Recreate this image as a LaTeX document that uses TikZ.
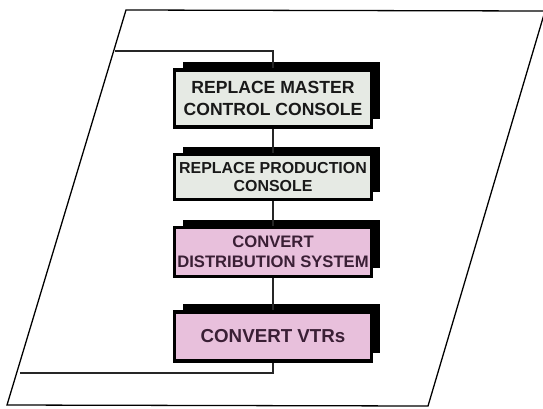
\documentclass[tikz,border=0pt]{standalone}
\usepackage{fontspec}
\setmainfont{Liberation Sans}
\usetikzlibrary{shadows}

\definecolor{consolegray}{HTML}{E6EAE4}
\definecolor{convertpink}{HTML}{E8C0DC}
\definecolor{converttext}{HTML}{3A1F35}

\begin{document}
\begin{tikzpicture}[
    x=0.03cm, y=-0.03cm,
    stepbox/.style={rectangle, draw=black, line width=2.8pt, minimum width=5.91cm,
        align=center, inner sep=0pt,
        general shadow={fill=black, shadow xshift=0.24cm, shadow yshift=0.24cm}},
    replacebox/.style={stepbox, fill=consolegray, text=black!90},
    convertbox/.style={stepbox, fill=convertpink, text=converttext},
    link/.style={draw=black!85, line width=1pt},
]
\useasboundingbox (0,0) rectangle (543,408);

% Outer frame
\draw[line width=1.1pt] (126,10) -- (545,11) -- (428,406) -- (7,405) -- cycle;

% Steps
\node[replacebox, minimum height=1.71cm, font=\fontsize{15}{18.5}\selectfont\bfseries] (master) at (273,98.5)
    {REPLACE MASTER\\CONTROL CONSOLE};
\node[replacebox, minimum height=1.35cm, font=\fontsize{13.6}{16}\selectfont\bfseries] (production) at (273,177)
    {REPLACE PRODUCTION\\CONSOLE};
\node[convertbox, minimum height=1.455cm, font=\fontsize{14.2}{17}\selectfont\bfseries] (distribution) at (273,252)
    {CONVERT\\DISTRIBUTION SYSTEM};
\node[convertbox, minimum height=1.47cm, font=\fontsize{16}{19}\selectfont\bfseries] (vtrs) at (273,336.5)
    {CONVERT VTRs};

% Bracket
\coordinate (topleft) at (115,51);
\coordinate (botleft) at (20,373);
\draw[link] (topleft) -- (master.north |- topleft) -- (master.north);
\draw[link] (master) -- (production);
\draw[link] (production) -- (distribution);
\draw[link] (distribution) -- (vtrs);
\draw[link] (vtrs.south) -- (vtrs.south |- botleft) -- (botleft);
\end{tikzpicture}
\end{document}
